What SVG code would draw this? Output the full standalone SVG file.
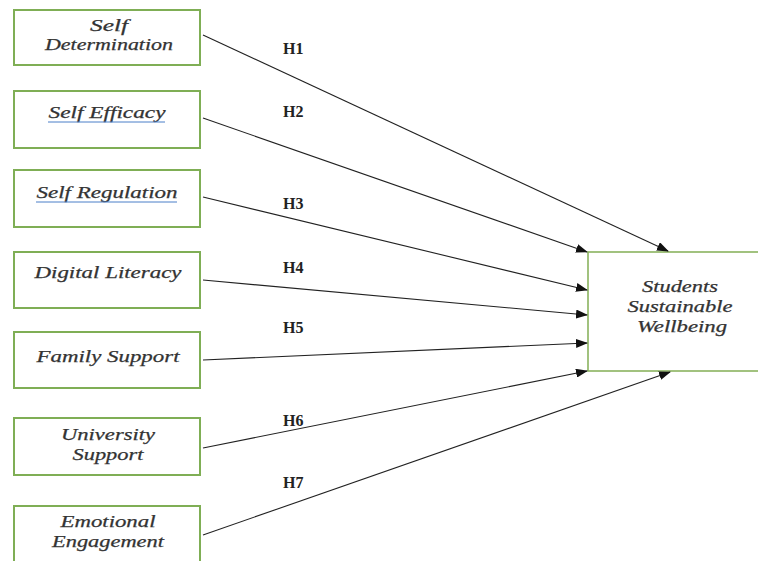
<svg xmlns="http://www.w3.org/2000/svg" width="758" height="561" viewBox="0 0 758 561">
  <defs>
    <marker id="arrow" markerWidth="12" markerHeight="9" refX="11" refY="4.5" orient="auto" markerUnits="userSpaceOnUse">
      <path d="M0,0 L12,4.5 L0,9 z" fill="#111"/>
    </marker>
    <style>
      .box { fill: #fff; stroke: #7fae55; stroke-width: 2; }
      .target { fill: #fff; stroke: #8bb35f; stroke-width: 1.6; }
      .lbl { font-family: "Liberation Serif", "DejaVu Serif", serif; font-style: italic; font-size: 16.5px; fill: #333; text-anchor: middle; stroke: #333; stroke-width: 0.25; }
      .hyp { font-family: "Liberation Serif", serif; font-weight: bold; font-size: 16px; fill: #222; }
      .link { stroke: #222; stroke-width: 1.1; fill: none; marker-end: url(#arrow); }
      .ul { stroke: #4a7fc8; stroke-width: 1; }
    </style>
  </defs>
  <rect width="758" height="561" fill="#fff"/>

  <!-- predictor constructs -->
  <g id="self-determination">
    <rect class="box" x="14" y="10" width="186" height="55"/>
    <text class="lbl" x="109" y="31" textLength="38" lengthAdjust="spacingAndGlyphs">Self</text>
    <text class="lbl" x="109" y="50" textLength="128" lengthAdjust="spacingAndGlyphs">Determination</text>
  </g>
  <g id="self-efficacy">
    <rect class="box" x="14" y="91" width="186" height="57"/>
    <text class="lbl" x="107" y="118" textLength="117" lengthAdjust="spacingAndGlyphs">Self Efficacy</text>
    <line class="ul" x1="48" y1="122" x2="165" y2="122"/>
  </g>
  <g id="self-regulation">
    <rect class="box" x="14" y="170" width="186" height="57"/>
    <text class="lbl" x="107" y="198" textLength="141" lengthAdjust="spacingAndGlyphs">Self Regulation</text>
    <line class="ul" x1="36" y1="202" x2="177" y2="202"/>
  </g>
  <g id="digital-literacy">
    <rect class="box" x="14" y="252" width="186" height="56"/>
    <text class="lbl" x="108" y="278" textLength="147" lengthAdjust="spacingAndGlyphs">Digital Literacy</text>
  </g>
  <g id="family-support">
    <rect class="box" x="14" y="332" width="186" height="56"/>
    <text class="lbl" x="108" y="362" textLength="143" lengthAdjust="spacingAndGlyphs">Family Support</text>
  </g>
  <g id="university-support">
    <rect class="box" x="14" y="418" width="186" height="57"/>
    <text class="lbl" x="108" y="440" textLength="94" lengthAdjust="spacingAndGlyphs">University</text>
    <text class="lbl" x="108" y="460" textLength="71" lengthAdjust="spacingAndGlyphs">Support</text>
  </g>
  <g id="emotional-engagement">
    <rect class="box" x="14" y="506" width="186" height="70"/>
    <text class="lbl" x="108" y="527" textLength="95" lengthAdjust="spacingAndGlyphs">Emotional</text>
    <text class="lbl" x="108" y="547" textLength="112" lengthAdjust="spacingAndGlyphs">Engagement</text>
  </g>

  <!-- outcome construct -->
  <g id="students-sustainable-wellbeing">
    <rect class="target" x="588" y="252" width="180" height="119"/>
    <text class="lbl" x="680" y="292" textLength="76" lengthAdjust="spacingAndGlyphs">Students</text>
    <text class="lbl" x="680" y="312" textLength="105" lengthAdjust="spacingAndGlyphs">Sustainable</text>
    <text class="lbl" x="682" y="332" textLength="90" lengthAdjust="spacingAndGlyphs">Wellbeing</text>
  </g>

  <!-- hypothesised paths -->
  <g id="connectors">
    <line class="link" x1="203" y1="35" x2="668" y2="251"/>
    <line class="link" x1="203" y1="118" x2="587" y2="252"/>
    <line class="link" x1="203" y1="197" x2="587" y2="290"/>
    <line class="link" x1="203" y1="280" x2="587" y2="315"/>
    <line class="link" x1="203" y1="360" x2="587" y2="343"/>
    <line class="link" x1="203" y1="448" x2="587" y2="371"/>
    <line class="link" x1="203" y1="535" x2="670" y2="372"/>
  </g>

  <g id="hypothesis-labels">
    <text class="hyp" x="283" y="54">H1</text>
    <text class="hyp" x="283" y="117">H2</text>
    <text class="hyp" x="283" y="209">H3</text>
    <text class="hyp" x="283" y="273">H4</text>
    <text class="hyp" x="283" y="333">H5</text>
    <text class="hyp" x="283" y="426">H6</text>
    <text class="hyp" x="283" y="488">H7</text>
  </g>
</svg>
